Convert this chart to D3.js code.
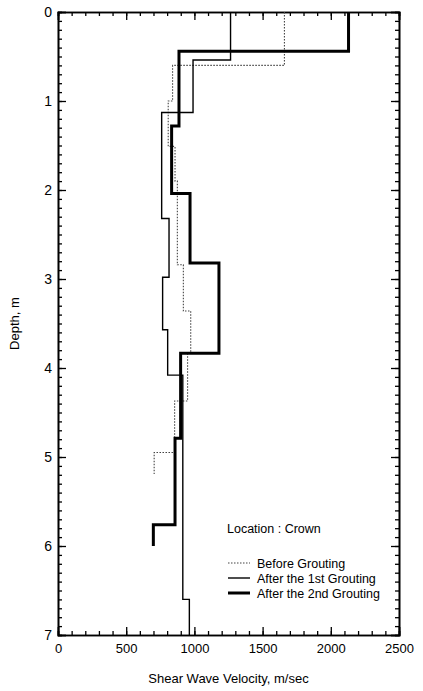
<!DOCTYPE html>
<html>
<head>
<meta charset="utf-8">
<script src="https://cdn.jsdelivr.net/npm/d3@7"></script>
<style>
  body { margin: 0; background: #fff; }
  svg { font-family: "Liberation Sans", Arial, sans-serif; }
</style>
</head>
<body>
<div id="chart"></div>
<script>
// Data: layer boundaries (depth, m) and layer velocities (m/sec)
const beforeDepths = [0, 0.60, 1.00, 1.51, 1.90, 2.84, 3.36, 3.83, 4.37, 4.95, 5.19];
const beforeVel = [1660, 840, 808, 858, 875, 919, 973, 950, 855, 705];

const first_Depths = [0, 0.54, 1.13, 2.32, 2.98, 3.57, 4.08, 6.60, 7.0];
const first_Vel = [1265, 990, 760, 814, 767, 804, 915, 963];

const secondDepths = [0, 0.44, 1.28, 2.04, 2.82, 3.835, 4.79, 5.76, 6.0];
const secondVel = [2130, 887, 833, 968, 1180, 899, 858, 699];

const xTicks = [0, 500, 1000, 1500, 2000, 2500];
const yTicks = [0, 1, 2, 3, 4, 5, 6, 7];

const legendLabels = ["Before Grouting", "After the 1st Grouting", "After the 2nd Grouting"];

// Set up the SVG
const width = 423;
const height = 691;
const margin = { top: 12, right: 24, bottom: 56, left: 58 };
const w = width - margin.left - margin.right;
const h = height - margin.top - margin.bottom;

const svg = d3.select("#chart")
    .append("svg")
    .attr("width", width)
    .attr("height", height);

const g = svg.append("g")
    .attr("transform", `translate(${margin.left},${margin.top})`);

// Scales
const x = d3.scaleLinear().domain([0, 2500]).range([0, w]);
const y = d3.scaleLinear().domain([0, 7]).range([0, h]);

// minor ticks on all four sides, pointing inward
const xMinor = d3.range(0, 2501, 100);
const yMinor = d3.range(0, 70.5, 1).map(d => d / 10);

g.append("g").attr("transform", `translate(0,${h})`)
    .call(d3.axisBottom(x).tickValues(xMinor).tickSize(-4).tickFormat(""));
g.append("g")
    .call(d3.axisTop(x).tickValues(xMinor).tickSize(-4).tickFormat(""));
g.append("g")
    .call(d3.axisLeft(y).tickValues(yMinor).tickSize(-4).tickFormat(""));
g.append("g").attr("transform", `translate(${w},0)`)
    .call(d3.axisRight(y).tickValues(yMinor).tickSize(-4).tickFormat(""));

// major ticks
g.append("g").attr("class", "x-axis").attr("transform", `translate(0,${h})`)
    .call(d3.axisBottom(x).tickValues(xTicks).tickSize(-8).tickPadding(9)
        .tickFormat(d3.format("d")));
g.append("g")
    .call(d3.axisTop(x).tickValues(xTicks).tickSize(-8).tickFormat(""));
g.append("g").attr("class", "y-axis")
    .call(d3.axisLeft(y).tickValues(yTicks).tickSize(-8).tickPadding(6)
        .tickFormat(d3.format("d")));
g.append("g").attr("transform", `translate(${w},0)`)
    .call(d3.axisRight(y).tickValues(yTicks).tickSize(-8).tickFormat(""));

g.selectAll(".domain").attr("stroke", "#000").attr("stroke-width", 1.6);
g.selectAll(".tick line").attr("stroke", "#000").attr("stroke-width", 1.3);
g.selectAll(".tick text").attr("font-size", 13).attr("fill", "#000")
    .attr("font-family", "Liberation Sans, Arial, sans-serif");
g.selectAll(".y-axis .tick text").attr("font-size", 14);

// Axis titles
svg.append("text")
    .attr("x", margin.left + w / 2)
    .attr("y", height - 8)
    .attr("text-anchor", "middle")
    .attr("font-size", 13)
    .text("Shear Wave Velocity, m/sec");

svg.append("text")
    .attr("transform", `translate(19,${margin.top + h / 2}) rotate(-90)`)
    .attr("text-anchor", "middle")
    .attr("font-size", 13)
    .text("Depth, m");

// step profile: vertical within a layer, horizontal at boundaries
function profile(depths, vels) {
    const pts = [];
    vels.forEach((v, i) => {
        pts.push([v, depths[i]]);
        pts.push([v, depths[i + 1]]);
    });
    return pts;
}

const line = d3.line()
    .x(d => x(d[0]))
    .y(d => y(d[1]));

const series = [
    { pts: profile(beforeDepths, beforeVel), sw: 1.1, dash: "1.5,1.5", color: "#444" },
    { pts: profile(first_Depths, first_Vel), sw: 1.4, dash: null, color: "#000" },
    { pts: profile(secondDepths, secondVel), sw: 3, dash: null, color: "#000" }
];

g.selectAll("path.profile")
    .data(series)
    .enter()
    .append("path")
    .attr("class", "profile")
    .attr("d", d => line(d.pts))
    .attr("fill", "none")
    .attr("stroke", d => d.color)
    .attr("stroke-width", d => d.sw)
    .attr("stroke-dasharray", d => d.dash);

// Legend
svg.append("text")
    .attr("x", 227)
    .attr("y", 533)
    .attr("font-size", 12.5)
    .text("Location : Crown");

const leg = svg.append("g");
series.forEach((s, i) => {
    const ly = 563 + i * 15;
    leg.append("line")
        .attr("x1", 228).attr("x2", 250)
        .attr("y1", ly).attr("y2", ly)
        .attr("stroke", s.color)
        .attr("stroke-width", s.sw)
        .attr("stroke-dasharray", s.dash);
    leg.append("text")
        .attr("x", 257)
        .attr("y", ly + 4.5)
        .attr("font-size", 12.5)
        .text(legendLabels[i]);
});
</script>
</body>
</html>
